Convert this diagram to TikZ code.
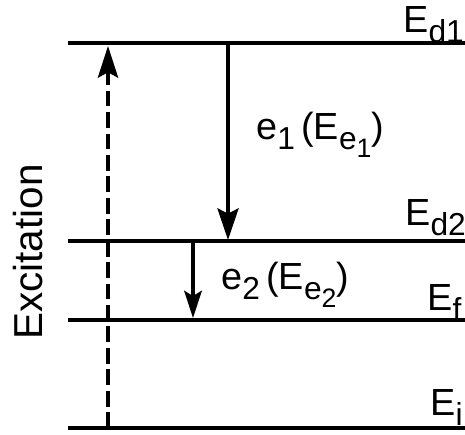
\documentclass[tikz,border=0pt]{standalone}
\usepackage{fontspec}
\setmainfont{Liberation Sans}
\usetikzlibrary{arrows.meta,positioning}

\newcommand{\lsub}[1]{\raisebox{-0.27em}{\scalebox{0.84}{#1}}}

\begin{document}
\begin{tikzpicture}[
                x=0.02cm, y=-0.02cm,
                font=\fontsize{21.5}{22}\selectfont,
                level/.style={line width=2.7pt},
                lbl/.style={anchor=base west, inner sep=0pt},
                decay/.style={line width=2pt, -{Stealth[length=18pt, width=12pt, inset=3pt]}},
                exc/.style={line width=2pt, dash pattern=on 9pt off 3.2pt, -{Stealth[length=18pt, width=11.5pt, inset=3pt]}},
            ]
            \useasboundingbox (0,0) rectangle (465,434);

            % energy levels
            \coordinate (d1w) at (68,43);  \coordinate (d1e) at (465,43);
            \coordinate (d2w) at (68,241); \coordinate (d2e) at (465,241);
            \coordinate (fw)  at (68,320); \coordinate (fe)  at (465,320);
            \coordinate (iw)  at (68,428); \coordinate (ie)  at (465,428);
            \draw[level] (d1w) -- (d1e);
            \draw[level] (d2w) -- (d2e);
            \draw[level] (fw) -- (fe);
            \draw[level] (iw) -- (ie);

            \node[lbl] (lblD1) at (403,32)  {E\lsub{d1}};
            \node[lbl] (lblD2) at (405,225) {E\lsub{d2}};
            \node[lbl] (lblF)  at (427,310) {E\lsub{f}};
            \node[lbl] (lblI)  at (430,415) {E\lsub{i}};

            % transitions
            \coordinate (excA) at (108,428); \coordinate (excB) at (108,46);
            \coordinate (eoneA) at (228,43); \coordinate (eoneB) at (228,240);
            \coordinate (etwoA) at (193,241); \coordinate (etwoB) at (193,318);
            \draw[exc] (excA) -- (excB);
            \draw[decay] (eoneA) -- (eoneB);
            \draw[decay, -{Stealth[length=15.5pt, width=10pt, inset=3pt]}] (etwoA) -- (etwoB);

            \node[lbl] (lblEone) at (256,139) {e\lsub{1}\,(E\lsub{e\lsub{1}})};
            \node[lbl] (lblEtwo) at (221,289) {e\lsub{2}\,(E\lsub{e\lsub{2}})};
            \node[rotate=90, font=\fontsize{23}{24}\selectfont, anchor=base] (lblExc) at (42,252) {Excitation};
        \end{tikzpicture}
\end{document}
